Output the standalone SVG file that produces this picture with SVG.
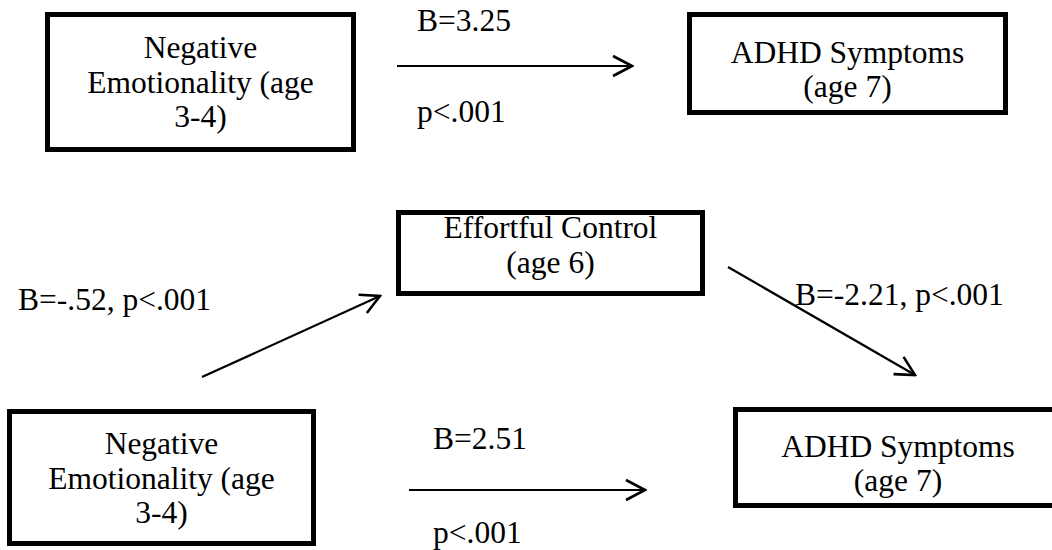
<svg xmlns="http://www.w3.org/2000/svg" width="1052" height="550" viewBox="0 0 1052 550">
<style>
.box{fill:#fff;stroke:#000;stroke-width:5}
.t{font-family:"Liberation Serif","Times New Roman",serif;font-size:31.5px;fill:#000}
.c{text-anchor:middle}
.ln{stroke:#000;stroke-width:2.2;fill:none}
</style>
<defs>
<marker id="ah" viewBox="0 0 22 24" refX="20" refY="12" markerWidth="22" markerHeight="24" markerUnits="userSpaceOnUse" orient="auto">
<path d="M1,2 L20,12 L1,22" fill="none" stroke="#000" stroke-width="2.6"/>
</marker>
</defs>
<rect width="1052" height="550" fill="#fff"/>
<g id="connectors">
<line class="ln" x1="397" y1="66" x2="632" y2="66" marker-end="url(#ah)"/>
<line class="ln" x1="202" y1="377" x2="380" y2="296" marker-end="url(#ah)"/>
<line class="ln" x1="728" y1="267" x2="915" y2="375" marker-end="url(#ah)"/>
<line class="ln" x1="409" y1="490" x2="645" y2="490" marker-end="url(#ah)"/>
</g>
<g id="labels">
<text class="t" x="417" y="31">B=3.25</text>
<text class="t" x="417" y="122">p&lt;.001</text>
<text class="t" x="18" y="310">B=-.52, p&lt;.001</text>
<text class="t" x="795" y="305">B=-2.21, p&lt;.001</text>
<text class="t" x="433" y="449">B=2.51</text>
<text class="t" x="433" y="543">p&lt;.001</text>
</g>
<g id="ne1">
<rect class="box" x="47.5" y="14.5" width="306" height="135"/>
<text class="t c" x="200.5" y="58">Negative</text>
<text class="t c" x="200.5" y="93">Emotionality (age</text>
<text class="t c" x="200.5" y="127">3-4)</text>
</g>
<g id="adhd1">
<rect class="box" x="689.5" y="14.5" width="316" height="98"/>
<text class="t c" x="847.5" y="63">ADHD Symptoms</text>
<text class="t c" x="847.5" y="97">(age 7)</text>
</g>
<g id="ec">
<rect class="box" x="398.5" y="212.5" width="304" height="81"/>
<text class="t c" x="550.5" y="238">Effortful Control</text>
<text class="t c" x="550.5" y="273">(age 6)</text>
</g>
<g id="ne2">
<rect class="box" x="9.5" y="411.5" width="304" height="132"/>
<text class="t c" x="161.5" y="454">Negative</text>
<text class="t c" x="161.5" y="489">Emotionality (age</text>
<text class="t c" x="161.5" y="523">3-4)</text>
</g>
<g id="adhd2">
<rect class="box" x="735.5" y="409.5" width="330" height="96"/>
<text class="t c" x="898" y="457">ADHD Symptoms</text>
<text class="t c" x="898" y="491">(age 7)</text>
</g>
</svg>
